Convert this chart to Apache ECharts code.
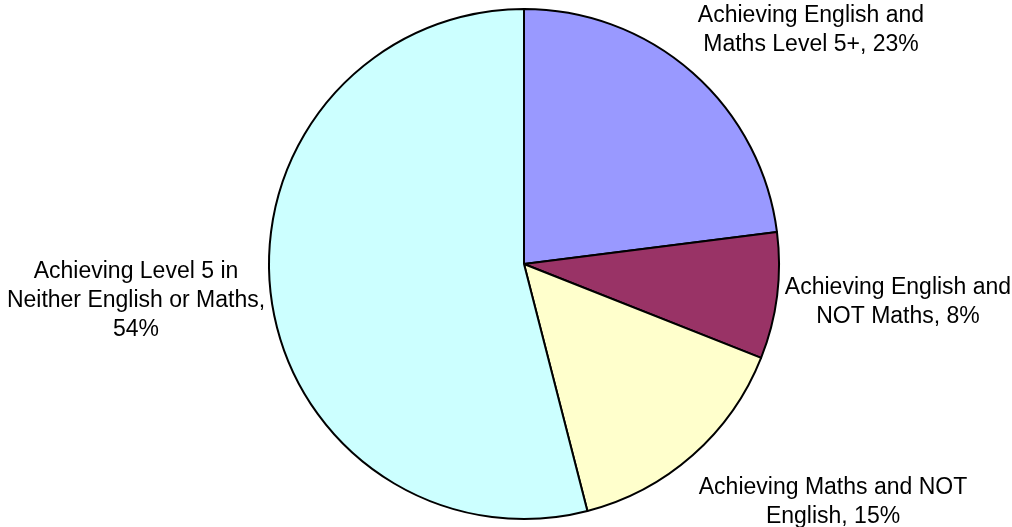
<!DOCTYPE html>
<html>
<head>
<meta charset="utf-8">
<script src="https://cdn.jsdelivr.net/npm/echarts@6/dist/echarts.min.js"></script>
<style>
  html, body { margin: 0; padding: 0; background: #fff; }
  #chart { width: 1012px; height: 527px; }
</style>
</head>
<body>
<div id="chart"></div>
<script>
// slice names (with the line breaks used in the labels) and shares in %
const categories = [
  'Achieving English and\nMaths Level 5+',
  'Achieving English and\nNOT Maths',
  'Achieving Maths and NOT\nEnglish',
  'Achieving Level 5 in\nNeither English or Maths'
]
const values = [23, 8, 15, 54]
const sliceColors = ['#9999FF', '#993366', '#FFFFCC', '#CCFFFF']
const labelSep = [', ', ', ', ', ', ',\n']

// where each label's centre sits (pixels)
const labelAnchors = [[811, 30], [898, 302], [833, 502], [136, 301]]

const chart = echarts.init(document.getElementById('chart'))

chart.setOption({
  animation: false,
  textStyle: { fontFamily: 'Liberation Sans, Arial, sans-serif' },
  series: [
    {
      type: 'pie',
      center: [524, 264],
      radius: 255,
      startAngle: 90,
      clockwise: true,
      avoidLabelOverlap: false,
      data: categories.map((name, i) => ({
        name,
        value: values[i],
        itemStyle: { color: sliceColors[i] }
      })),
      itemStyle: { borderColor: '#000', borderWidth: 2 },
      label: {
        show: true,
        position: 'outside',
        color: '#000',
        fontSize: 23,
        lineHeight: 29,
        align: 'center',
        formatter: p => p.name + labelSep[p.dataIndex] + p.value + '%'
      },
      labelLine: { show: false },
      labelLayout: p => ({
        x: labelAnchors[p.dataIndex][0],
        y: labelAnchors[p.dataIndex][1],
        align: 'center',
        verticalAlign: 'middle'
      }),
      emphasis: { disabled: true }
    }
  ]
})
</script>
</body>
</html>
